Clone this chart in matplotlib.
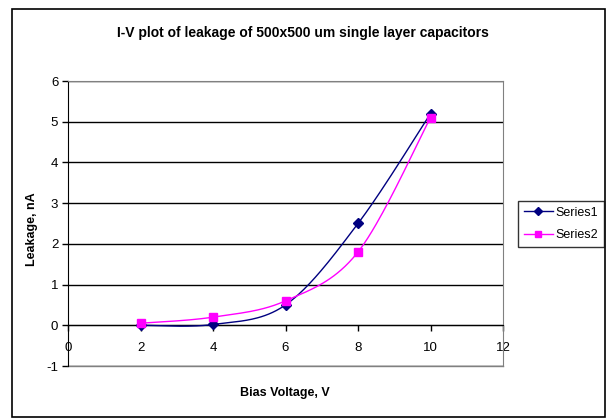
import numpy as np
import matplotlib
matplotlib.use('Agg')
import matplotlib.pyplot as plt
from matplotlib.patches import Rectangle
from matplotlib.lines import Line2D

plt.rcParams['font.family'] = ['Liberation Sans', 'DejaVu Sans']
plt.rcParams['axes.unicode_minus'] = False

# data
voltage = [2, 4, 6, 8, 10]
series1 = [0.0, 0.02, 0.5, 2.5, 5.2]
series2 = [0.05, 0.2, 0.6, 1.8, 5.1]
names = ['Series1', 'Series2']
colors = ['#000080', '#FF00FF']
markers = ['D', 's']


def smooth(x, y, n=40):
    # excel-like smoothed line (bezier through points, catmull-rom style)
    p = np.column_stack([x, y]).astype(float)
    pts = []
    for i in range(len(p) - 1):
        p0 = p[i - 1] if i > 0 else p[i]
        p1 = p[i]
        p2 = p[i + 1]
        p3 = p[i + 2] if i + 2 < len(p) else p[i + 1]
        c1 = p1 + (p2 - p0) / 6
        c2 = p2 - (p3 - p1) / 6
        t = np.linspace(0, 1, n)[:, None]
        seg = ((1 - t) ** 3) * p1 + 3 * ((1 - t) ** 2) * t * c1 + 3 * (1 - t) * t ** 2 * c2 + t ** 3 * p2
        pts.append(seg if i == 0 else seg[1:])
    pts = np.vstack(pts)
    return pts[:, 0], pts[:, 1]


fig = plt.figure(figsize=(6.06, 4.19), dpi=100)
ax = fig.add_axes([68 / 606, 53 / 419, 435 / 606, 285 / 419])

# chart border
fig.patches.append(Rectangle((12 / 606, 2 / 419), 593 / 606, 408 / 419,
                             transform=fig.transFigure, fill=False,
                             edgecolor='black', lw=1.2))

for ys, name, c, m in zip([series1, series2], names, colors, markers):
    sx, sy = smooth(voltage, ys)
    ax.plot(sx, sy, color=c, lw=1, zorder=3)
    ax.plot(voltage, ys, linestyle='None', marker=m, color=c,
            markersize=5.5 if m == 'D' else 6, zorder=4)

ax.set_xlim(0, 12)
ax.set_ylim(-1, 6)
ax.set_xticks(range(0, 13, 2))
ax.set_yticks(range(-1, 7))
ax.yaxis.grid(True, color='black', lw=1)
ax.set_axisbelow(True)

ax.spines['bottom'].set_position(('data', 0))
ax.spines['bottom'].set_color('black')
ax.spines['left'].set_color('black')
for s in ['top', 'right']:
    ax.spines[s].set_color('#808080')
ax.plot([0, 12], [-1, -1], color='#808080', lw=1, clip_on=False, zorder=1)

ax.tick_params(axis='both', direction='out', length=4, width=1,
               labelsize=9.5, colors='black')
ax.tick_params(axis='x', pad=8)
ax.tick_params(axis='y', pad=3)

fig.text(303 / 606, 1 - 33 / 419, 'I-V plot of leakage of 500x500 um single layer capacitors',
         ha='center', va='center', fontsize=10, fontweight='bold')
fig.text(285 / 606, 1 - 393 / 419, 'Bias Voltage, V', ha='center', va='center',
         fontsize=9, fontweight='bold')
fig.text(32 / 606, 1 - 229 / 419, 'Leakage, nA', ha='center', va='center',
         rotation=90, fontsize=9, fontweight='bold')

handles = [Line2D([], [], color=c, marker=m, lw=1,
                  markersize=4 if m == 'D' else 4.5)
           for c, m in zip(colors, markers)]
leg = fig.legend(handles, names, loc='center', bbox_to_anchor=(561 / 606, 1 - 224 / 419),
                 fontsize=9, frameon=True, fancybox=False, handlelength=2.3,
                 handletextpad=0.2, borderpad=0.45, labelspacing=0.85, borderaxespad=0)
leg.get_frame().set_edgecolor('black')
leg.get_frame().set_linewidth(1)

fig.savefig('out.png', dpi=100)
